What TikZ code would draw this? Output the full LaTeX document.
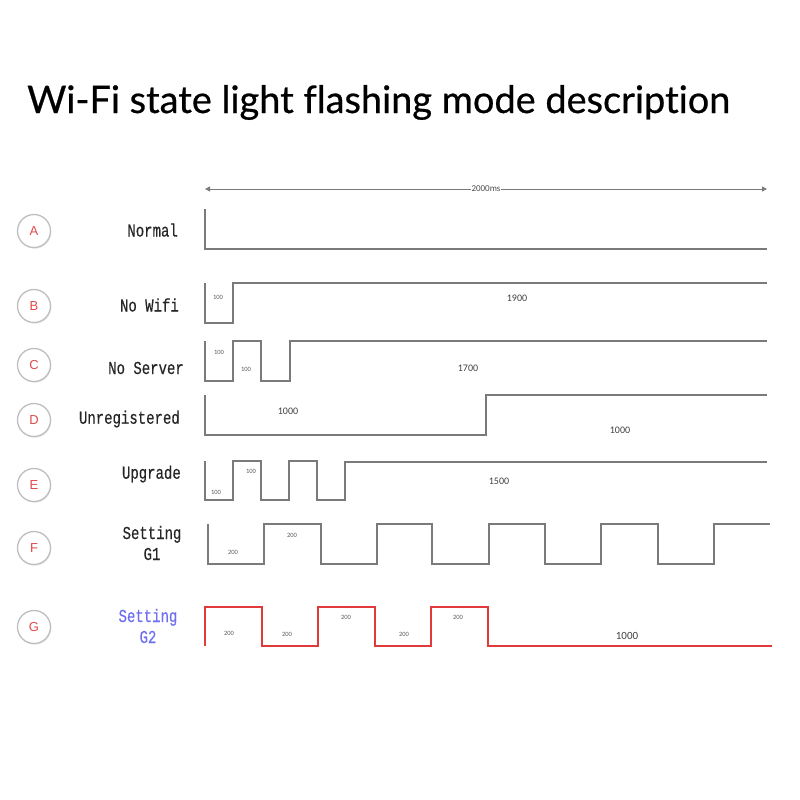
\documentclass[tikz,border=0pt]{standalone}
\usepackage{fontspec}
\setmainfont{Liberation Sans}
\newfontfamily\titlefont[Ligatures=NoCommon,FakeBold=0.6]{Lato}
\newfontfamily\monofont[FakeBold=0.4]{Liberation Mono}
\newfontfamily\calfont{Carlito}
\usetikzlibrary{arrows.meta,shadows}
\definecolor{wavecol}{HTML}{7A7A7A}
\definecolor{redwave}{HTML}{E03A3A}
\definecolor{letterred}{HTML}{E04A4A}
\definecolor{bluelab}{HTML}{6E6EF0}
\definecolor{ringgray}{HTML}{BEBEBE}
\newcommand{\tall}[1]{\scalebox{1}[1.3]{#1}}
\begin{document}
\begin{tikzpicture}[x=1pt,y=-1pt,
  wave/.style={draw=wavecol, line width=1.4pt, line join=miter},
  redw/.style={draw=redwave, line width=1.9pt, line join=miter},
  badge/.style={circle, draw=ringgray, line width=1.3pt, fill=white, minimum size=33pt, inner sep=0pt,
     font=\fontsize{13}{13}\selectfont, text=letterred,
     drop shadow={shadow xshift=0.8pt, shadow yshift=-1.2pt, opacity=0.18}},
  lab/.style={font=\monofont\fontsize{14}{21}\selectfont, text=black!85, inner sep=0pt},
  tiny/.style={font=\calfont\fontsize{6.5}{6.5}\selectfont, text=black!65, inner sep=0pt},
  num/.style={font=\calfont\fontsize{10}{10}\selectfont, text=black!75, inner sep=0pt},
  dimlab/.style={font=\calfont\fontsize{9}{9}\selectfont, text=black!70, fill=white, inner sep=0.5pt}
]
\useasboundingbox (0,0) rectangle (800,800);

% title
\node[anchor=base west, inner sep=0pt, font=\titlefont\fontsize{34}{34}\selectfont] (title) at (27,113)
  {\resizebox{703pt}{!}{Wi-Fi state light flashing mode description}};

% time span arrow
\coordinate (tl) at (205,189);
\coordinate (tr) at (767,189);
\draw[draw=wavecol, line width=1pt, {Triangle[length=5pt,width=5pt]}-{Triangle[length=5pt,width=5pt]}] (tl) -- (tr)
  node[pos=0.5, dimlab] (span) {2000ms};

% badges
\node[badge] (bA) at (34,231) {A};
\node[badge] (bB) at (34,306) {B};
\node[badge] (bC) at (34,365) {C};
\node[badge] (bD) at (34,420) {D};
\node[badge] (bE) at (34,485) {E};
\node[badge] (bF) at (34,548) {F};
\node[badge] (bG) at (34,627) {G};

% row labels
\node[lab, anchor=east] (lA) at (178,230) {\tall{Normal}};
\node[lab, anchor=east] (lB) at (179,305) {\tall{No Wifi}};
\node[lab, anchor=east] (lC) at (184,368) {\tall{No Server}};
\node[lab, anchor=east] (lD) at (180,419) {\tall{Unregistered}};
\node[lab, anchor=east] (lE) at (181,474) {\tall{Upgrade}};
\node[lab, align=center] (lF) at (152,543) {\tall{Setting}\\\tall{G1}};
\node[lab, align=center, text=bluelab] (lG) at (148,626) {\tall{Setting}\\\tall{G2}};

% A
\draw[wave] (205,209) -- (205,249) -- (767,249);
% B
\draw[wave] (205,283) -- (205,323) -- (233,323) -- (233,283) -- (767,283);
\node[tiny] (nB1) at (218,297) {100};
\node[num] (nB2) at (517,298) {1900};
% C
\draw[wave] (205,341) -- (205,381) -- (233,381) -- (233,341) -- (261,341) -- (261,381) -- (290,381) -- (290,341) -- (767,341);
\node[tiny] (nC1) at (219,352) {100};
\node[tiny] (nC2) at (246,369) {100};
\node[num] (nC3) at (468,368) {1700};
% D
\draw[wave] (205,395) -- (205,435) -- (486,435) -- (486,395) -- (767,395);
\node[num] (nD1) at (288,411) {1000};
\node[num] (nD2) at (620,430) {1000};
% E
\draw[wave] (205,461) -- (205,500) -- (233,500) -- (233,461) -- (261,461) -- (261,500) -- (289,500) -- (289,461) -- (317,461) -- (317,500) -- (345,500) -- (345,462) -- (767,462);
\node[tiny] (nE1) at (216,492) {100};
\node[tiny] (nE2) at (251,471) {100};
\node[num] (nE3) at (499,481) {1500};
% F
\draw[wave] (208,524) -- (208,564) -- (264,564) -- (264,524) -- (321,524) -- (321,564) -- (377,564) -- (377,524) -- (432,524) -- (432,564) -- (489,564) -- (489,524) -- (545,524) -- (545,564) -- (601,564) -- (601,524) -- (658,524) -- (658,564) -- (714,564) -- (714,524) -- (770,524);
\node[tiny] (nF1) at (233,552) {200};
\node[tiny] (nF2) at (292,535) {200};
% G
\draw[redw] (205,646) -- (205,607) -- (262,607) -- (262,646) -- (318,646) -- (318,607) -- (375,607) -- (375,646) -- (431,646) -- (431,607) -- (488,607) -- (488,646) -- (772,646);
\node[tiny] (nG1) at (229,633) {200};
\node[tiny] (nG2) at (287,634) {200};
\node[tiny] (nG3) at (346,617) {200};
\node[tiny] (nG4) at (404,634) {200};
\node[tiny] (nG5) at (458,617) {200};
\node[num, font=\calfont\fontsize{11}{11}\selectfont] (nG6) at (627,636) {1000};
\end{tikzpicture}
\end{document}
